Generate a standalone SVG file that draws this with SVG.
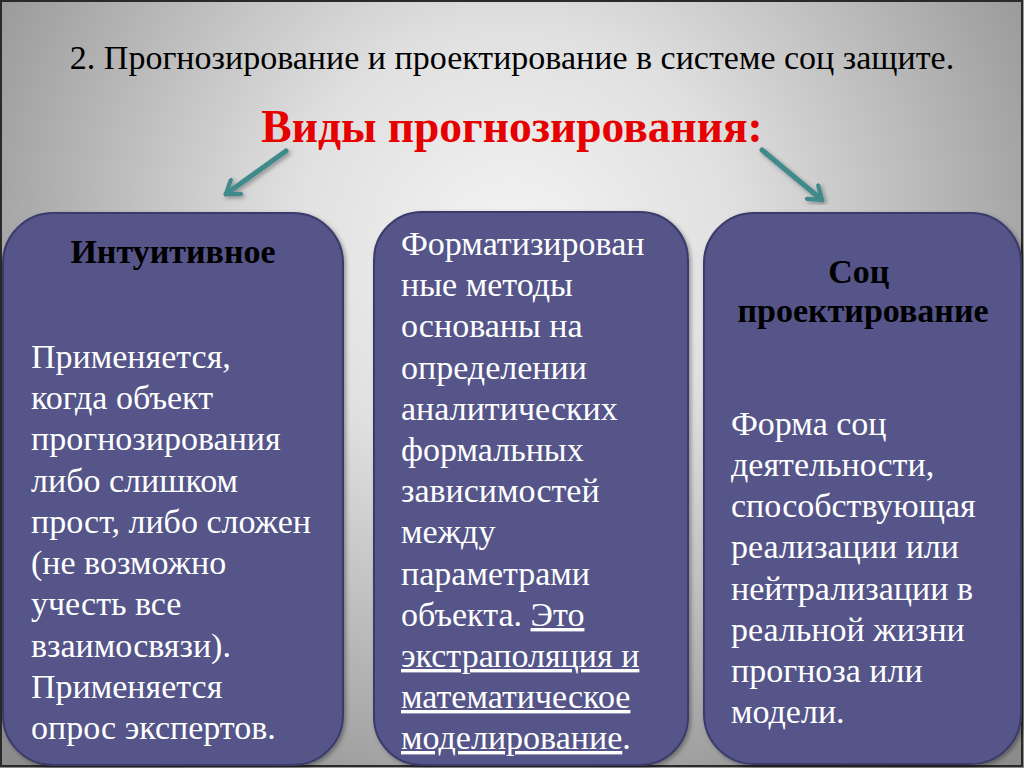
<svg xmlns="http://www.w3.org/2000/svg" width="1024" height="768" viewBox="0 0 1024 768">
  <defs>
    <radialGradient id="bg" cx="512" cy="250" r="640" gradientUnits="userSpaceOnUse">
      <stop offset="0" stop-color="#f4f4f4"/>
      <stop offset="0.35" stop-color="#e0e0e0"/>
      <stop offset="1" stop-color="#8c8c8c"/>
    </radialGradient>
    <filter id="sh" x="-10%" y="-10%" width="120%" height="120%">
      <feDropShadow dx="2" dy="2" stdDeviation="2" flood-color="#000" flood-opacity="0.35"/>
    </filter>
    <marker id="ah" viewBox="0 0 12 12" refX="9" refY="6" markerWidth="4.2" markerHeight="4.2" orient="auto" markerUnits="strokeWidth">
      <polyline points="2,1 9,6 2,11" fill="none" stroke="#3f8a8c" stroke-width="2.4" stroke-linecap="round" stroke-linejoin="round"/>
    </marker>
    <style>
      .box { fill: #545489; stroke: #3b3b6b; stroke-width: 2; }
      .body { font-family: "Liberation Serif", "Times New Roman", serif; font-size: 34px; fill: #ffffff; }
      .head { font-family: "Liberation Serif", "Times New Roman", serif; font-size: 34px; font-weight: bold; fill: #000000; text-anchor: middle; }
      .conn { stroke: #3f8a8c; stroke-width: 5; stroke-linecap: round; fill: none; }
    </style>
  </defs>

  <rect x="0" y="0" width="1024" height="768" fill="url(#bg)"/>
  <rect x="1" y="1" width="1021" height="765" fill="none" stroke="#2a2a2a" stroke-width="2"/>

  <text x="512" y="69" text-anchor="middle" font-family="Liberation Serif, Times New Roman, serif" font-size="34" fill="#000">2. Прогнозирование и проектирование в системе соц защите.</text>
  <text x="512" y="142" text-anchor="middle" font-family="Liberation Serif, Times New Roman, serif" font-size="45.5" font-weight="bold" fill="#e60000">Виды прогнозирования:</text>

  <g id="connectors" filter="url(#sh)">
    <line class="conn" x1="286" y1="151" x2="226" y2="194" marker-end="url(#ah)"/>
    <line class="conn" x1="762" y1="150" x2="822" y2="200" marker-end="url(#ah)"/>
  </g>

  <g id="node-intuitive">
    <rect class="box" x="3" y="213" width="340" height="552" rx="50" ry="50" filter="url(#sh)"/>
    <text class="head" x="173" y="263">Интуитивное</text>
    <text class="body">
      <tspan x="31" y="368">Применяется,</tspan>
      <tspan x="31" y="409">когда объект</tspan>
      <tspan x="31" y="450">прогнозирования</tspan>
      <tspan x="31" y="492">либо слишком</tspan>
      <tspan x="31" y="533">прост, либо сложен</tspan>
      <tspan x="31" y="574">(не возможно</tspan>
      <tspan x="31" y="615">учесть все</tspan>
      <tspan x="31" y="657">взаимосвязи).</tspan>
      <tspan x="31" y="698">Применяется</tspan>
      <tspan x="31" y="739">опрос экспертов.</tspan>
    </text>
  </g>

  <g id="node-formal">
    <rect class="box" x="374" y="212" width="314" height="553" rx="48" ry="48" filter="url(#sh)"/>
    <text class="body">
      <tspan x="401" y="255">Форматизирован</tspan>
      <tspan x="401" y="296">ные методы</tspan>
      <tspan x="401" y="337">основаны на</tspan>
      <tspan x="401" y="379">определении</tspan>
      <tspan x="401" y="420">аналитических</tspan>
      <tspan x="401" y="461">формальных</tspan>
      <tspan x="401" y="502">зависимостей</tspan>
      <tspan x="401" y="543">между</tspan>
      <tspan x="401" y="585">параметрами</tspan>
      <tspan x="401" y="626">объекта. <tspan text-decoration="underline">Это</tspan></tspan>
      <tspan x="401" y="667" text-decoration="underline">экстраполяция и</tspan>
      <tspan x="401" y="708" text-decoration="underline">математическое</tspan>
      <tspan x="401" y="749"><tspan text-decoration="underline">моделирование</tspan>.</tspan>
    </text>
  </g>

  <g id="node-social">
    <rect class="box" x="704" y="213" width="317" height="551" rx="50" ry="50" filter="url(#sh)"/>
    <text class="head">
      <tspan x="863" y="283">Соц</tspan>
      <tspan x="863" y="322">проектирование</tspan>
    </text>
    <text class="body">
      <tspan x="731" y="435">Форма соц</tspan>
      <tspan x="731" y="476">деятельности,</tspan>
      <tspan x="731" y="517">способствующая</tspan>
      <tspan x="731" y="558">реализации или</tspan>
      <tspan x="731" y="600">нейтрализации в</tspan>
      <tspan x="731" y="641">реальной жизни</tspan>
      <tspan x="731" y="682">прогноза или</tspan>
      <tspan x="731" y="723">модели.</tspan>
    </text>
  </g>
</svg>
